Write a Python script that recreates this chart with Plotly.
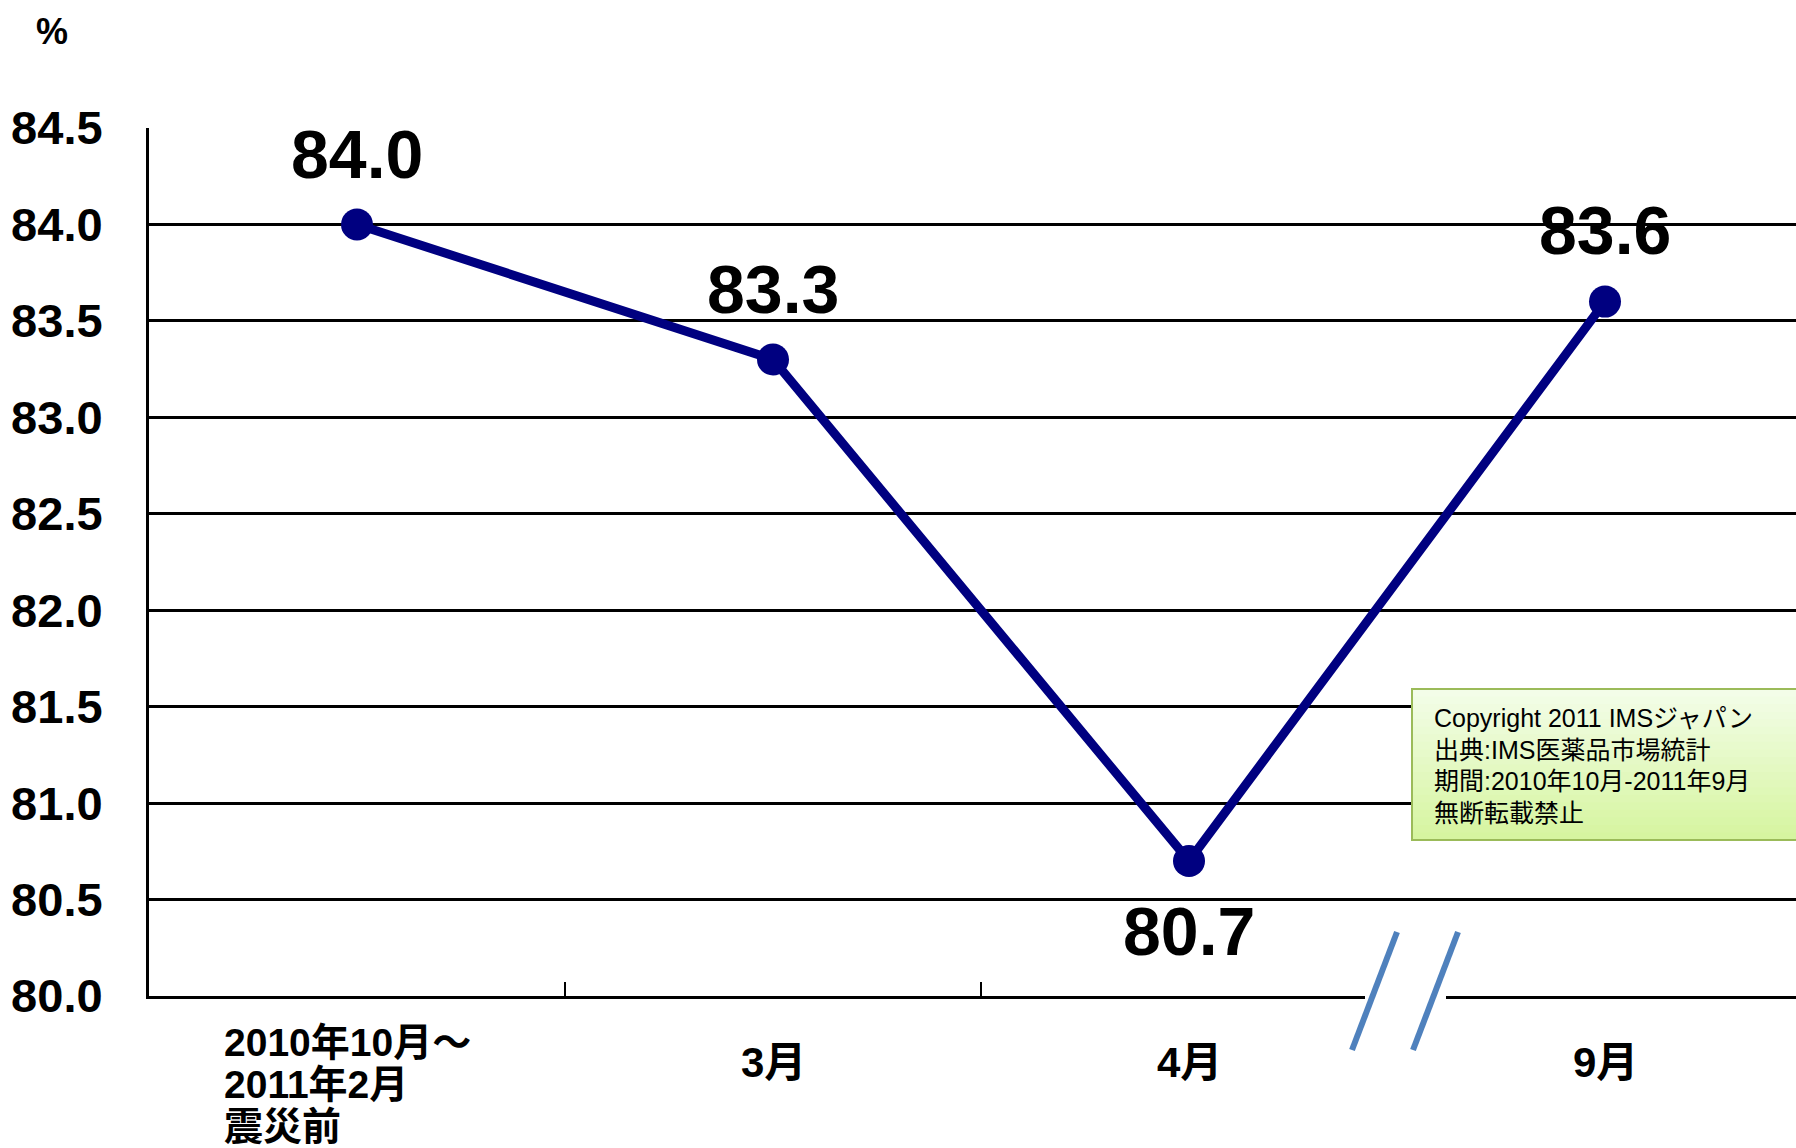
import plotly.graph_objects as go

# ---- data ----
categories = ["2010年10月～\n2011年2月\n震災前", "3月", "4月", "9月"]
values = [84.0, 83.3, 80.7, 83.6]
y_ticks = [80.0, 80.5, 81.0, 81.5, 82.0, 82.5, 83.0, 83.5, 84.0, 84.5]
label_shift = [70, 70, -70, 72]
copyright_lines = ["Copyright 2011 IMSジャパン", "出典:IMS医薬品市場統計",
                   "期間:2010年10月-2011年9月", "無断転載禁止"]

W, H = 1796, 1148
L, R, T, B = 149, 0, 128, 152
PW, PH = W - L - R, H - T - B

NUM_FONT = "Liberation Sans Narrow, Liberation Sans, Arial, sans-serif"
LBL_FONT = "Liberation Sans, Noto Sans CJK JP, sans-serif"
BOX_FONT = "Liberation Sans, Noto Sans CJK JP, sans-serif"

def px(xp):
    return (xp - L) / PW

def py(yp):
    return (H - B - yp) / PH

xs = list(range(len(categories)))

fig = go.Figure()
fig.add_trace(go.Scatter(
    x=xs, y=values, mode="lines+markers",
    line=dict(color="#000080", width=9),
    marker=dict(color="#000080", size=32),
    hoverinfo="skip", showlegend=False, cliponaxis=False,
))

annotations = []
for x, v, s in zip(xs, values, label_shift):
    annotations.append(dict(
        x=x, y=v, xref="x", yref="y", text=f"<b>{v:.1f}</b>",
        showarrow=False, yshift=s, xanchor="center", yanchor="middle",
        font=dict(family=NUM_FONT, size=68, color="black"),
    ))

# category labels
for i, cat in enumerate(categories):
    lines = cat.split("\n")
    if len(lines) == 1:
        annotations.append(dict(
            x=i, y=0, xref="x", yref="paper", text=f"<b>{lines[0]}</b>",
            showarrow=False, yshift=-66, xanchor="center", yanchor="middle",
            font=dict(family=LBL_FONT, size=42, color="black"),
        ))
    else:
        for j, ln in enumerate(lines):
            annotations.append(dict(
                x=i, y=0, xref="x", yref="paper", text=f"<b>{ln}</b>",
                showarrow=False, xshift=-135, yshift=-46 - 42 * j,
                xanchor="left", yanchor="middle",
                font=dict(family=LBL_FONT, size=39, color="black"),
            ))

# % unit label
annotations.append(dict(
    x=px(52), y=py(31), xref="paper", yref="paper", text="<b>%</b>",
    showarrow=False, xanchor="center", yanchor="middle",
    font=dict(family=NUM_FONT, size=36, color="black"),
))

# copyright box text, one annotation per line
for j, ln in enumerate(copyright_lines):
    annotations.append(dict(
        x=px(1432), y=py(718 + 31.7 * j), xref="paper", yref="paper",
        text=ln, align="left",
        showarrow=False, xanchor="left", yanchor="middle",
        font=dict(family=BOX_FONT, size=25, color="black"),
    ))

shapes = []
# gradient box
bx0, bx1, by0, by1 = 1412, 1800, 689, 840
n = 20
c0 = (243, 253, 232)
c1 = (214, 245, 160)
for k in range(n):
    t = k / (n - 1)
    c = tuple(int(round(c0[m] + (c1[m] - c0[m]) * t)) for m in range(3))
    ya = by0 + (by1 - by0) * k / n
    yb = by0 + (by1 - by0) * (k + 1) / n
    shapes.append(dict(type="rect", xref="paper", yref="paper",
                       x0=px(bx0), x1=px(bx1), y0=py(yb) - 0.001, y1=py(ya),
                       fillcolor=f"rgb{c}", line=dict(width=0), layer="above"))
shapes.append(dict(type="rect", xref="paper", yref="paper",
                   x0=px(bx0), x1=px(bx1), y0=py(by1), y1=py(by0),
                   fillcolor="rgba(0,0,0,0)", line=dict(color="#9bbb59", width=2),
                   layer="above"))

# axis break
shapes.append(dict(type="rect", xref="paper", yref="paper",
                   x0=px(1365), x1=px(1446), y0=py(1004), y1=py(975),
                   fillcolor="white", line=dict(width=0), layer="above"))
for xa in (1397, 1458):
    shapes.append(dict(type="line", xref="paper", yref="paper",
                       x0=px(xa), y0=py(932), x1=px(xa - 45), y1=py(1050),
                       line=dict(color="#4f81bd", width=6), layer="above"))

fig.update_layout(
    width=W, height=H,
    margin=dict(l=L, r=R, t=T, b=B, pad=0, autoexpand=False),
    paper_bgcolor="white", plot_bgcolor="white",
    showlegend=False,
    xaxis=dict(
        range=[-0.5, -0.5 + PW / 416.0],
        tickmode="array", tickvals=[0.5, 1.5, 2.5], ticktext=["", "", ""],
        ticks="inside", ticklen=14, tickwidth=2, tickcolor="black",
        showgrid=False, zeroline=False,
        showline=True, linecolor="black", linewidth=3,
        showticklabels=False, fixedrange=True, automargin=False,
    ),
    yaxis=dict(
        range=[80.0, 84.5],
        tickmode="array", tickvals=y_ticks,
        ticktext=[f"<b>{v:.1f}</b>" for v in y_ticks],
        showgrid=True, gridcolor="black", gridwidth=3,
        zeroline=False, showline=True, linecolor="black", linewidth=3,
        ticks="", ticklabelstandoff=34,
        tickfont=dict(family=NUM_FONT, size=47, color="black"),
        fixedrange=True, automargin=False,
    ),
    annotations=annotations,
    shapes=shapes,
)

fig.write_html("out.html")
